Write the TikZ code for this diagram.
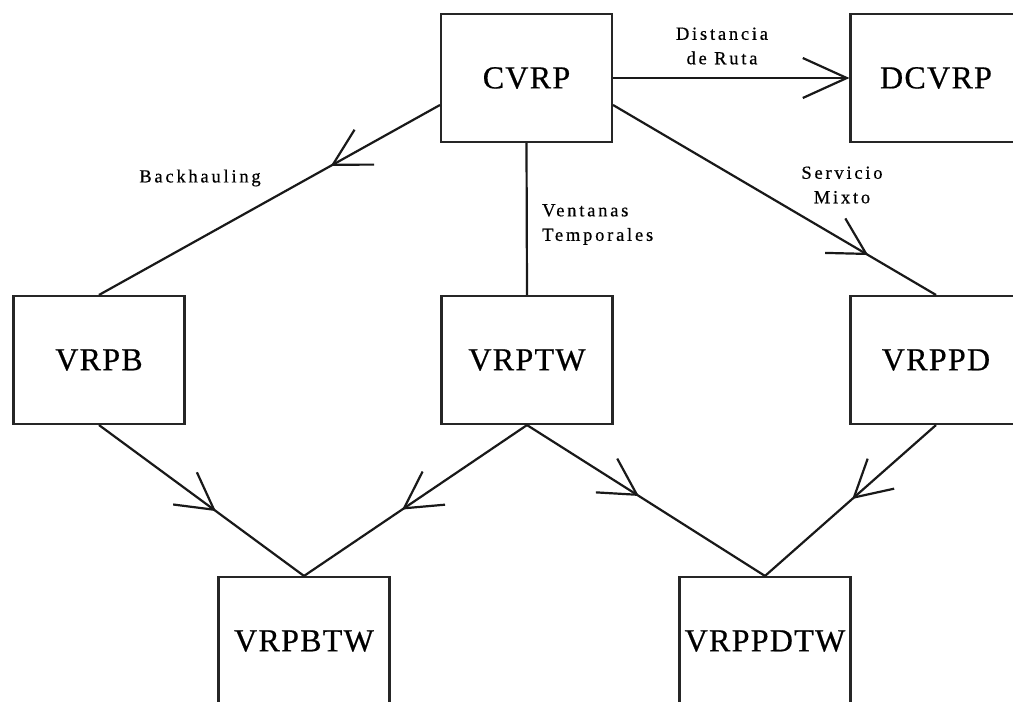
\documentclass[tikz,border=0pt]{standalone}
\usepackage{fontspec}
\setmainfont{Liberation Serif}
\newfontfamily\boxfont[LetterSpace=4,FakeBold=0.6]{Liberation Serif}
\newfontfamily\lblfont[LetterSpace=15,FakeBold=0.5]{Liberation Serif}
\usetikzlibrary{arrows.meta,decorations.markings,calc}

\tikzset{
  prob/.style={draw=black!85, line width=2.1pt, rectangle, inner sep=0pt,
    minimum width=171pt, minimum height=128pt,
    font=\boxfont\fontsize{32}{36}\selectfont},
  lbl/.style={inner sep=0pt, align=center,
    font=\lblfont\fontsize{18.5}{24.5}\selectfont},
  conn/.style={draw=black!90, line width=2.2pt},
  midarrow/.style={postaction={decorate}, decoration={markings,
    mark=at position #1 with {\arrow[line width=2.2pt]{Straight Barb[length=36pt,width=40pt]}}}},
  endbarb/.style={-{Straight Barb[length=44pt,width=40pt]}}
}

\begin{document}
\begin{tikzpicture}[x=1pt,y=-1pt]
  \useasboundingbox (0,0) rectangle (1013,702);
  \fill[white] (0,0) rectangle (1013,702);
  \clip (0,0) rectangle (1013,702);

  % problem variants
  \node[prob] (cvrp)    at (526.5,78) {CVRP};
  \node[prob] (dcvrp)   at (936,78)   {DCVRP};
  \node[prob] (vrpb)    at (99,360)   {VRPB};
  \node[prob] (vrptw)   at (527,360)  {VRPTW};
  \node[prob] (vrppd)   at (936,360)  {VRPPD};
  \node[prob] (vrpbtw)  at (304,641)  {VRPBTW};
  \node[prob] (vrppdtw) at (765,641)  {VRPPDTW};

  % extensions of CVRP
  \draw[conn, endbarb] (cvrp.east) -- (dcvrp.west);
  \draw[conn, midarrow=0.32] ([yshift=-27pt]cvrp.west) -- (vrpb.north);
  \draw[conn] (cvrp.south) -- (vrptw.north);
  \draw[conn, midarrow=0.79] ([yshift=-27pt]cvrp.east) -- (vrppd.north);

  % combined variants
  \draw[conn, midarrow=0.57] (vrpb.south) -- (vrpbtw.north);
  \draw[conn, midarrow=0.56] (vrptw.south) -- (vrpbtw.north);
  \draw[conn, midarrow=0.47] (vrptw.south) -- (vrppdtw.north);
  \draw[conn, midarrow=0.49] (vrppd.south) -- (vrppdtw.north);

  % edge labels
  \node[lbl] (ldist) at (722,46) {Distancia\\de Ruta};
  \node[lbl] (lback) at (200,178) {Backhauling};
  \node[lbl, anchor=west, align=left] (lvent) at (542,224.5) {Ventanas\\Temporales};
  \node[lbl] (lserv) at (842,185) {Servicio\\Mixto};
\end{tikzpicture}
\end{document}
